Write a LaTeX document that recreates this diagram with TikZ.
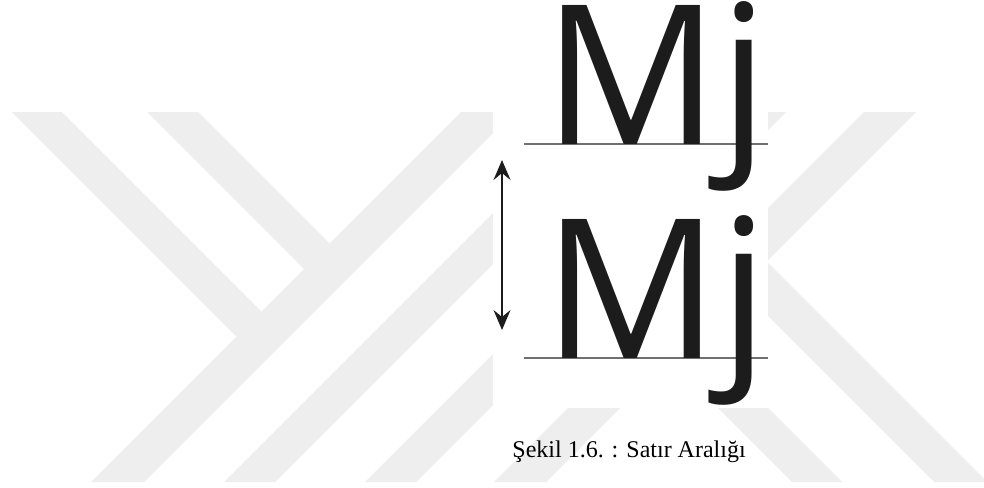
\documentclass[tikz,border=0pt]{standalone}
\usepackage{fontspec}
\setmainfont{Liberation Serif}
\newfontfamily\mjfont{Open Sans}
\usetikzlibrary{arrows.meta}
\definecolor{wm}{RGB}{238,238,238}
\definecolor{baseln}{RGB}{112,112,112}
\definecolor{ink}{RGB}{28,28,28}
\tikzset{
  band/.style={fill=wm, draw=none},
  glyphs/.style={inner sep=0pt, anchor=base west, text=ink,
    font=\mjfont\fontsize{97.4pt}{100pt}\selectfont},
  baserule/.style={draw=baseln, line width=0.8pt},
  spacing/.style={draw=ink, line width=0.6pt,
    {Stealth[length=10pt,width=8.5pt,inset=3.5pt]}-{Stealth[length=10pt,width=8.5pt,inset=3.5pt]}},
  captiontext/.style={inner sep=0pt, anchor=base west, text=black,
    font=\fontsize{12pt}{14pt}\selectfont}
}
\begin{document}
\begin{tikzpicture}[x=0.5pt,y=-0.5pt]
\clip (0,0) rectangle (984,487);
\fill[white] (0,0) rectangle (984,487);
% watermark bands
\fill[band] (12,112) -- (62,112) -- (261.5,311.5) -- (236.5,336.5) -- cycle;
\fill[band] (147,112) -- (198,112) -- (329.5,243.5) -- (304,269) -- cycle;
\fill[band] (91,482) -- (144,482) -- (514,112) -- (461,112) -- cycle;
\fill[band] (224,482) -- (275,482) -- (645,112) -- (594,112) -- cycle;
\fill[band] (365,482) -- (416,482) -- (786,112) -- (735,112) -- cycle;
\fill[band] (494,482) -- (546,482) -- (916,112) -- (864,112) -- cycle;
\fill[band] (740,288) -- (766.5,261.5) -- (987,482) -- (934,482) -- cycle;
\fill[band] (669,359) -- (694,334) -- (842,482) -- (792,482) -- cycle;
% white picture area
\fill[white] (493,0) rectangle (768,408);
% baselines
\coordinate (l1a) at (524,144);
\coordinate (l1b) at (768,144);
\coordinate (l2a) at (524,358);
\coordinate (l2b) at (768,358);
\draw[baserule] (l1a) -- (l1b);
\draw[baserule] (l2a) -- (l2b);
% text lines
\node[glyphs] (mjtop) at (543,144) {Mj};
\node[glyphs] (mjbot) at (543,358) {Mj};
% line spacing arrow
\coordinate (arrtop) at (502,160);
\coordinate (arrbot) at (502,330);
\draw[spacing] (arrtop) -- (arrbot);
% caption
\node[captiontext] (cap) at (512,457) {Şekil 1.6. : Satır Aralığı};
\end{tikzpicture}
\end{document}
